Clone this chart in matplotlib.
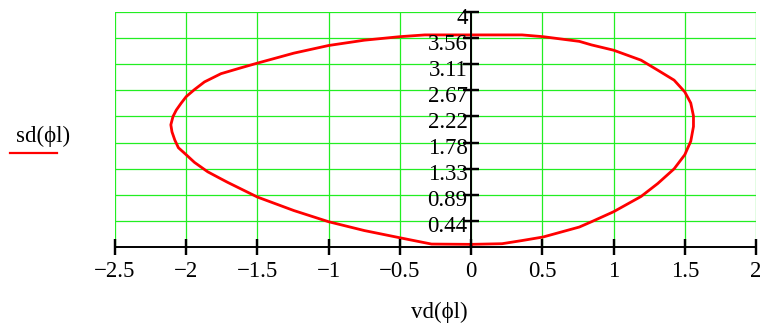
import matplotlib
matplotlib.use("Agg")
import matplotlib.pyplot as plt
from matplotlib.transforms import offset_copy

plt.rcParams['font.family'] = ['Liberation Serif', 'DejaVu Serif']

# ---- data ----
vd = [0.0, 0.217, 0.358, 0.505, 0.76, 0.845, 1.0, 1.193, 1.31, 1.425, 1.5,
      1.542, 1.561, 1.561, 1.542, 1.5, 1.425, 1.31, 1.193, 1.0, 0.845,
      0.76, 0.505, 0.358, 0.0, -0.325, -0.5, -0.75, -1.0, -1.244, -1.5,
      -1.616, -1.756, -1.872, -1.942, -2.0, -2.035, -2.07, -2.093, -2.108,
      -2.10, -2.08, -2.055, -2.0, -1.942, -1.849, -1.756, -1.709, -1.5,
      -1.244, -1.0, -0.75, -0.5, -0.349, -0.278, 0.0]
sd = [0.045, 0.056, 0.11, 0.17, 0.34, 0.43, 0.60, 0.86, 1.08, 1.33, 1.57,
      1.80, 2.05, 2.23, 2.45, 2.64, 2.84, 3.01, 3.18, 3.35, 3.44,
      3.50, 3.58, 3.61, 3.61, 3.61, 3.58, 3.52, 3.43, 3.30, 3.13,
      3.05, 2.95, 2.81, 2.68, 2.56, 2.45, 2.33, 2.22, 2.08,
      1.96, 1.82, 1.69, 1.57, 1.44, 1.28, 1.16, 1.10, 0.85,
      0.62, 0.43, 0.28, 0.157, 0.084, 0.05, 0.045]

x_ticks = [-2.5, -2.0, -1.5, -1.0, -0.5, 0.0, 0.5, 1.0, 1.5, 2.0]
x_tick_labels = ["\u22122.5", "\u22122", "\u22121.5", "\u22121", "\u22120.5",
                 "0", "0.5", "1", "1.5", "2"]
y_ticks = [4 * k / 9 for k in range(1, 10)]
y_tick_labels = ["0.44", "0.89", "1.33", "1.78", "2.22", "2.67", "3.11",
                 "3.56", "4"]
x_label = "vd(\u03d5l)"
y_label = "sd(\u03d5l)"

W, H = 760, 324
fig = plt.figure(figsize=(W / 100, H / 100), dpi=100)
L, R, T, B = 115, 756, 12, 247
ax = fig.add_axes([L / W, 1 - B / H, (R - L) / W, (B - T) / H])
ax.set_xlim(-2.5, 2.0)
ax.set_ylim(0, 4)
for s in ax.spines.values():
    s.set_visible(False)
ax.set_xticks([])
ax.set_yticks([])

grid_c = '#22ee22'
for xv in x_ticks:
    ax.axvline(xv, color=grid_c, lw=0.9, zorder=1)
for yv in y_ticks:
    ax.axhline(yv, color=grid_c, lw=0.9, zorder=1)

# curve
ax.plot(vd, sd, color='#ff0000', lw=2.0, zorder=3, clip_on=False,
        solid_joinstyle='round')

# axes lines
ax.plot([-2.5, 2.0], [0, 0], color='black', lw=1.4, zorder=4, clip_on=False,
        solid_capstyle='butt')
ax.plot([0, 0], [-0.1, 4.0], color='black', lw=1.4, zorder=4, clip_on=False,
        solid_capstyle='butt')

fs = 16.5
# x ticks
for xv, lab in zip(x_ticks, x_tick_labels):
    ax.plot([xv, xv], [0, 0], marker='|', ms=11, mew=1.6, color='black',
            zorder=5, clip_on=False)
    tr = offset_copy(ax.transData, fig=fig, x=0, y=-30, units='dots')
    ax.text(xv, 0, lab, transform=tr, ha='center', va='baseline',
            fontsize=fs, color='black')
# y ticks
for yv, lab in zip(y_ticks, y_tick_labels):
    ax.plot([0, 0], [yv, yv], marker='_', ms=11, mew=1.6, color='black',
            zorder=5, clip_on=False)
    tr = offset_copy(ax.transData, fig=fig, x=-3.5, y=-11.5, units='dots')
    ax.text(0, yv, lab, transform=tr, ha='right', va='baseline',
            fontsize=fs, color='black', zorder=6)

# labels
fig.text(439 / W, 1 - 318 / H, x_label, ha='center', va='baseline',
         fontsize=fs, color='black')
fig.text(43 / W, 1 - 142 / H, y_label, ha='center', va='baseline',
         fontsize=fs, color='black')
fig.add_artist(plt.Line2D([10 / W, 57 / W], [1 - 153 / H, 1 - 153 / H],
                          color='#ff0000', lw=1.6, transform=fig.transFigure))

fig.savefig('out.png', dpi=100)
